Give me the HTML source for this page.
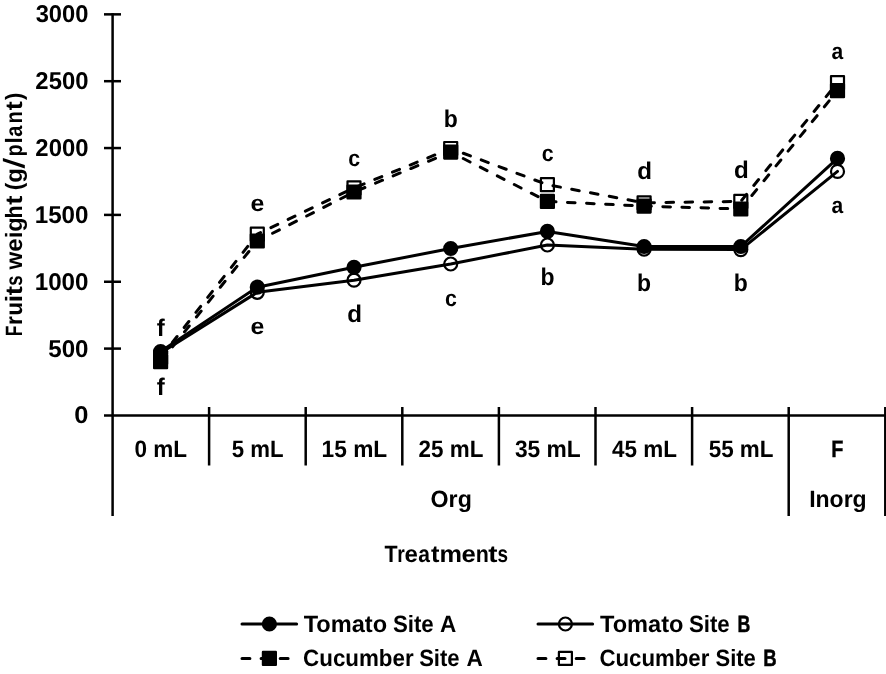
<!DOCTYPE html>
<html><head><meta charset="utf-8"><title>Fruits weight chart</title>
<style>html,body{margin:0;padding:0;background:#fff;}svg{display:block;filter:grayscale(1);}body{font-family:"Liberation Sans",sans-serif;}</style></head>
<body>
<svg width="886" height="674" viewBox="0 0 886 674" font-family="'Liberation Sans', sans-serif" font-weight="bold" fill="#000" text-rendering="geometricPrecision">
<rect width="886" height="674" fill="#fff"/>
<g stroke="#000" stroke-width="2.5" fill="none" stroke-linecap="butt">
<line x1="112.6" y1="13.15" x2="112.6" y2="516"/>
<line x1="104" y1="415.45" x2="886" y2="415.45"/>
<line x1="104" y1="14.35" x2="121" y2="14.35"/>
<line x1="104" y1="81.20" x2="121" y2="81.20"/>
<line x1="104" y1="148.05" x2="121" y2="148.05"/>
<line x1="104" y1="214.90" x2="121" y2="214.90"/>
<line x1="104" y1="281.75" x2="121" y2="281.75"/>
<line x1="104" y1="348.60" x2="121" y2="348.60"/>
<line x1="209.10" y1="407" x2="209.10" y2="465.5"/>
<line x1="305.70" y1="407" x2="305.70" y2="465.5"/>
<line x1="402.30" y1="407" x2="402.30" y2="465.5"/>
<line x1="498.90" y1="407" x2="498.90" y2="465.5"/>
<line x1="595.50" y1="407" x2="595.50" y2="465.5"/>
<line x1="692.10" y1="407" x2="692.10" y2="465.5"/>
<line x1="788.70" y1="407" x2="788.70" y2="516"/>
<line x1="885.30" y1="407" x2="885.30" y2="516"/>
</g>
<text x="35.67" y="22.25" font-size="24.2" textLength="52.84" lengthAdjust="spacingAndGlyphs">3000</text>
<text x="35.36" y="89.10" font-size="24.2" textLength="53.14" lengthAdjust="spacingAndGlyphs">2500</text>
<text x="35.36" y="155.95" font-size="24.2" textLength="53.14" lengthAdjust="spacingAndGlyphs">2000</text>
<text x="34.69" y="222.80" font-size="24.2" textLength="53.83" lengthAdjust="spacingAndGlyphs">1500</text>
<text x="34.69" y="289.65" font-size="24.2" textLength="53.83" lengthAdjust="spacingAndGlyphs">1000</text>
<text x="48.22" y="356.50" font-size="24.2" textLength="40.27" lengthAdjust="spacingAndGlyphs">500</text>
<text x="74.38" y="423.35" font-size="24.2" textLength="14.17" lengthAdjust="spacingAndGlyphs">0</text>
<g transform="translate(21.8,335.8) rotate(-90)">
<text x="-0.38" y="0.00" font-size="23.6" textLength="10.71" lengthAdjust="spacingAndGlyphs">F</text>
<text x="10.91" y="0.00" font-size="23.6" textLength="8.91" lengthAdjust="spacingAndGlyphs">r</text>
<text x="20.43" y="0.00" font-size="23.6" textLength="13.42" lengthAdjust="spacingAndGlyphs">u</text>
<text x="33.47" y="0.00" font-size="23.6" textLength="7.27" lengthAdjust="spacingAndGlyphs">i</text>
<text x="40.55" y="0.00" font-size="23.6" textLength="9.21" lengthAdjust="spacingAndGlyphs">t</text>
<text x="50.05" y="0.00" font-size="23.6" textLength="10.31" lengthAdjust="spacingAndGlyphs">s</text>
<text x="66.36" y="0.00" font-size="23.6" textLength="17.69" lengthAdjust="spacingAndGlyphs">w</text>
<text x="84.04" y="0.00" font-size="23.6" textLength="13.37" lengthAdjust="spacingAndGlyphs">e</text>
<text x="97.72" y="0.00" font-size="23.6" textLength="6.26" lengthAdjust="spacingAndGlyphs">i</text>
<text x="104.15" y="0.00" font-size="23.6" textLength="14.52" lengthAdjust="spacingAndGlyphs">g</text>
<text x="117.41" y="0.00" font-size="23.6" textLength="12.98" lengthAdjust="spacingAndGlyphs">h</text>
<text x="130.95" y="0.00" font-size="23.6" textLength="9.21" lengthAdjust="spacingAndGlyphs">t</text>
<text x="145.68" y="0.00" font-size="23.6" textLength="7.49" lengthAdjust="spacingAndGlyphs">(</text>
<text x="152.94" y="0.00" font-size="23.6" textLength="14.64" lengthAdjust="spacingAndGlyphs">g</text>
<text x="179.44" y="0.00" font-size="23.6" textLength="11.85" lengthAdjust="spacingAndGlyphs">p</text>
<text x="192.32" y="0.00" font-size="23.6" textLength="6.26" lengthAdjust="spacingAndGlyphs">l</text>
<text x="199.10" y="0.00" font-size="23.6" textLength="11.18" lengthAdjust="spacingAndGlyphs">a</text>
<text x="212.19" y="0.00" font-size="23.6" textLength="12.34" lengthAdjust="spacingAndGlyphs">n</text>
<text x="225.66" y="0.00" font-size="23.6" textLength="9.10" lengthAdjust="spacingAndGlyphs">t</text>
<text x="235.74" y="0.00" font-size="23.6" textLength="7.37" lengthAdjust="spacingAndGlyphs">)</text>
</g>
<polygon points="2.9,157.9 2.9,161.3 24.8,168.5 24.8,165.1" fill="#000"/>
<g fill="none" stroke="#000" stroke-width="3.0" stroke-linejoin="round" stroke-linecap="round">
<polyline points="160.60,351.50 257.30,287.20 354.00,267.30 450.70,248.50 547.40,231.40 644.10,246.50 740.80,246.50 837.50,158.40"/>
<polyline points="160.60,353.00 257.30,292.30 354.00,280.20 450.70,264.00 547.40,245.00 644.10,249.20 740.80,249.60 837.50,171.40"/>
<polyline points="160.60,361.70 257.30,241.00 354.00,192.00 450.70,152.10 547.40,201.40 644.10,206.10 740.80,209.00 837.50,90.70" stroke-dasharray="7.6 11.49"/>
<polyline points="160.60,357.50 257.30,234.20 354.00,187.90 450.70,148.50 547.40,184.70 644.10,202.80 740.80,201.40 837.50,82.70" stroke-dasharray="7.6 11.49"/>
</g>
<circle cx="160.60" cy="353.00" r="6.5" fill="none" stroke="#000" stroke-width="2.2"/>
<circle cx="257.30" cy="292.30" r="6.5" fill="none" stroke="#000" stroke-width="2.2"/>
<circle cx="354.00" cy="280.20" r="6.5" fill="none" stroke="#000" stroke-width="2.2"/>
<circle cx="450.70" cy="264.00" r="6.5" fill="none" stroke="#000" stroke-width="2.2"/>
<circle cx="547.40" cy="245.00" r="6.5" fill="none" stroke="#000" stroke-width="2.2"/>
<circle cx="644.10" cy="249.20" r="6.5" fill="none" stroke="#000" stroke-width="2.2"/>
<circle cx="740.80" cy="249.60" r="6.5" fill="none" stroke="#000" stroke-width="2.2"/>
<circle cx="837.50" cy="171.40" r="6.5" fill="none" stroke="#000" stroke-width="2.2"/>
<rect x="154.10" y="351.00" width="13.0" height="13.0" fill="none" stroke="#000" stroke-width="2.2" stroke-linejoin="round"/>
<rect x="250.80" y="227.70" width="13.0" height="13.0" fill="none" stroke="#000" stroke-width="2.2" stroke-linejoin="round"/>
<rect x="347.50" y="181.40" width="13.0" height="13.0" fill="none" stroke="#000" stroke-width="2.2" stroke-linejoin="round"/>
<rect x="444.20" y="142.00" width="13.0" height="13.0" fill="none" stroke="#000" stroke-width="2.2" stroke-linejoin="round"/>
<rect x="540.90" y="178.20" width="13.0" height="13.0" fill="none" stroke="#000" stroke-width="2.2" stroke-linejoin="round"/>
<rect x="637.60" y="196.30" width="13.0" height="13.0" fill="none" stroke="#000" stroke-width="2.2" stroke-linejoin="round"/>
<rect x="734.30" y="194.90" width="13.0" height="13.0" fill="none" stroke="#000" stroke-width="2.2" stroke-linejoin="round"/>
<rect x="831.00" y="76.20" width="13.0" height="13.0" fill="none" stroke="#000" stroke-width="2.2" stroke-linejoin="round"/>
<circle cx="160.60" cy="351.50" r="6.5" fill="#000" stroke="#000" stroke-width="2.2"/>
<circle cx="257.30" cy="287.20" r="6.5" fill="#000" stroke="#000" stroke-width="2.2"/>
<circle cx="354.00" cy="267.30" r="6.5" fill="#000" stroke="#000" stroke-width="2.2"/>
<circle cx="450.70" cy="248.50" r="6.5" fill="#000" stroke="#000" stroke-width="2.2"/>
<circle cx="547.40" cy="231.40" r="6.5" fill="#000" stroke="#000" stroke-width="2.2"/>
<circle cx="644.10" cy="246.50" r="6.5" fill="#000" stroke="#000" stroke-width="2.2"/>
<circle cx="740.80" cy="246.50" r="6.5" fill="#000" stroke="#000" stroke-width="2.2"/>
<circle cx="837.50" cy="158.40" r="6.5" fill="#000" stroke="#000" stroke-width="2.2"/>
<rect x="154.10" y="355.20" width="13.0" height="13.0" fill="#000" stroke="#000" stroke-width="2.2" stroke-linejoin="round"/>
<rect x="250.80" y="234.50" width="13.0" height="13.0" fill="#000" stroke="#000" stroke-width="2.2" stroke-linejoin="round"/>
<rect x="347.50" y="185.50" width="13.0" height="13.0" fill="#000" stroke="#000" stroke-width="2.2" stroke-linejoin="round"/>
<rect x="444.20" y="145.60" width="13.0" height="13.0" fill="#000" stroke="#000" stroke-width="2.2" stroke-linejoin="round"/>
<rect x="540.90" y="194.90" width="13.0" height="13.0" fill="#000" stroke="#000" stroke-width="2.2" stroke-linejoin="round"/>
<rect x="637.60" y="199.60" width="13.0" height="13.0" fill="#000" stroke="#000" stroke-width="2.2" stroke-linejoin="round"/>
<rect x="734.30" y="202.50" width="13.0" height="13.0" fill="#000" stroke="#000" stroke-width="2.2" stroke-linejoin="round"/>
<rect x="831.00" y="84.20" width="13.0" height="13.0" fill="#000" stroke="#000" stroke-width="2.2" stroke-linejoin="round"/>
<text x="156.68" y="335.60" font-size="24.0" textLength="7.97" lengthAdjust="spacingAndGlyphs">f</text>
<text x="250.61" y="210.60" font-size="23.0" textLength="13.83" lengthAdjust="spacingAndGlyphs">e</text>
<text x="348.25" y="165.50" font-size="23.0" textLength="11.86" lengthAdjust="spacingAndGlyphs">c</text>
<text x="443.71" y="126.80" font-size="24.2" textLength="14.03" lengthAdjust="spacingAndGlyphs">b</text>
<text x="541.65" y="161.40" font-size="23.0" textLength="11.87" lengthAdjust="spacingAndGlyphs">c</text>
<text x="637.33" y="179.10" font-size="24.2" textLength="14.76" lengthAdjust="spacingAndGlyphs">d</text>
<text x="734.03" y="178.30" font-size="24.2" textLength="14.76" lengthAdjust="spacingAndGlyphs">d</text>
<text x="831.57" y="59.00" font-size="23.0" textLength="11.70" lengthAdjust="spacingAndGlyphs">a</text>
<text x="156.68" y="394.70" font-size="24.0" textLength="7.97" lengthAdjust="spacingAndGlyphs">f</text>
<text x="250.61" y="333.90" font-size="23.0" textLength="13.83" lengthAdjust="spacingAndGlyphs">e</text>
<text x="347.23" y="322.00" font-size="24.2" textLength="14.76" lengthAdjust="spacingAndGlyphs">d</text>
<text x="444.95" y="305.70" font-size="23.0" textLength="11.86" lengthAdjust="spacingAndGlyphs">c</text>
<text x="540.41" y="284.70" font-size="24.2" textLength="14.03" lengthAdjust="spacingAndGlyphs">b</text>
<text x="637.11" y="290.60" font-size="24.2" textLength="14.03" lengthAdjust="spacingAndGlyphs">b</text>
<text x="733.81" y="290.60" font-size="24.2" textLength="14.03" lengthAdjust="spacingAndGlyphs">b</text>
<text x="831.57" y="213.20" font-size="23.0" textLength="11.70" lengthAdjust="spacingAndGlyphs">a</text>
<text x="134.50" y="457.20" font-size="23.8" textLength="52.61" lengthAdjust="spacingAndGlyphs">0 mL</text>
<text x="231.68" y="457.20" font-size="23.8" textLength="51.82" lengthAdjust="spacingAndGlyphs">5 mL</text>
<text x="321.58" y="457.20" font-size="23.8" textLength="65.60" lengthAdjust="spacingAndGlyphs">15 mL</text>
<text x="418.62" y="457.20" font-size="23.8" textLength="64.76" lengthAdjust="spacingAndGlyphs">25 mL</text>
<text x="514.89" y="457.20" font-size="23.8" textLength="65.80" lengthAdjust="spacingAndGlyphs">35 mL</text>
<text x="611.96" y="457.20" font-size="23.8" textLength="64.92" lengthAdjust="spacingAndGlyphs">45 mL</text>
<text x="708.67" y="457.20" font-size="23.8" textLength="64.81" lengthAdjust="spacingAndGlyphs">55 mL</text>
<text x="831.36" y="457.20" font-size="23.8" textLength="12.16" lengthAdjust="spacingAndGlyphs" stroke="#000" stroke-width="0.4">F</text>
<text x="430.57" y="506.80" font-size="23.6" textLength="41.24" lengthAdjust="spacingAndGlyphs">Org</text>
<text x="809.15" y="506.60" font-size="23.6" textLength="57.54" lengthAdjust="spacingAndGlyphs">Inorg</text>
<text x="384.53" y="562.20" font-size="23.6" textLength="13.10" lengthAdjust="spacingAndGlyphs">T</text>
<text x="397.24" y="562.20" font-size="23.6" textLength="7.53" lengthAdjust="spacingAndGlyphs">r</text>
<text x="404.44" y="562.20" font-size="23.6" textLength="13.37" lengthAdjust="spacingAndGlyphs">e</text>
<text x="418.37" y="562.20" font-size="23.6" textLength="11.70" lengthAdjust="spacingAndGlyphs">a</text>
<text x="430.98" y="562.20" font-size="23.6" textLength="8.45" lengthAdjust="spacingAndGlyphs">t</text>
<text x="439.45" y="562.20" font-size="23.6" textLength="22.51" lengthAdjust="spacingAndGlyphs">m</text>
<text x="461.47" y="562.20" font-size="23.6" textLength="14.29" lengthAdjust="spacingAndGlyphs">e</text>
<text x="475.71" y="562.20" font-size="23.6" textLength="13.10" lengthAdjust="spacingAndGlyphs">n</text>
<text x="488.35" y="562.20" font-size="23.6" textLength="9.21" lengthAdjust="spacingAndGlyphs">t</text>
<text x="497.54" y="562.20" font-size="23.6" textLength="10.54" lengthAdjust="spacingAndGlyphs">s</text>
<line x1="242.00" y1="624.0" x2="296.60" y2="624.0" stroke="#000" stroke-width="3.0" stroke-linecap="round"/>
<circle cx="269.40" cy="624.00" r="6.5" fill="#000" stroke="#000" stroke-width="2.2"/>
<text x="303.71" y="632.00" font-size="23.6" textLength="83.42" lengthAdjust="spacingAndGlyphs">Tomato</text>
<text x="392.93" y="632.00" font-size="23.6" textLength="40.83" lengthAdjust="spacingAndGlyphs">Site</text>
<text x="440.04" y="632.00" font-size="23.6" textLength="16.28" lengthAdjust="spacingAndGlyphs">A</text>
<line x1="538.00" y1="624.0" x2="592.60" y2="624.0" stroke="#000" stroke-width="3.0" stroke-linecap="round"/>
<circle cx="565.40" cy="624.00" r="6.5" fill="none" stroke="#000" stroke-width="2.2"/>
<text x="600.01" y="632.00" font-size="23.6" textLength="83.42" lengthAdjust="spacingAndGlyphs">Tomato</text>
<text x="688.93" y="632.00" font-size="23.6" textLength="40.83" lengthAdjust="spacingAndGlyphs">Site</text>
<text x="737.40" y="632.00" font-size="23.6" textLength="12.79" lengthAdjust="spacingAndGlyphs" stroke="#000" stroke-width="0.5">B</text>
<line x1="242.00" y1="658.4" x2="296.60" y2="658.4" stroke="#000" stroke-width="3.0" stroke-linecap="round" stroke-dasharray="7.9 11.2"/>
<rect x="262.90" y="651.90" width="13.0" height="13.0" fill="#000" stroke="#000" stroke-width="2.2" stroke-linejoin="round"/>
<text x="303.11" y="665.60" font-size="23.6" textLength="110.48" lengthAdjust="spacingAndGlyphs">Cucumber</text>
<text x="419.14" y="665.60" font-size="23.6" textLength="40.51" lengthAdjust="spacingAndGlyphs">Site</text>
<text x="466.44" y="665.60" font-size="23.6" textLength="16.28" lengthAdjust="spacingAndGlyphs">A</text>
<line x1="538.00" y1="658.4" x2="592.60" y2="658.4" stroke="#000" stroke-width="3.0" stroke-linecap="round" stroke-dasharray="7.9 11.2"/>
<rect x="558.90" y="651.90" width="13.0" height="13.0" fill="none" stroke="#000" stroke-width="2.2" stroke-linejoin="round"/>
<text x="599.41" y="665.60" font-size="23.6" textLength="109.98" lengthAdjust="spacingAndGlyphs">Cucumber</text>
<text x="715.44" y="665.60" font-size="23.6" textLength="40.41" lengthAdjust="spacingAndGlyphs">Site</text>
<text x="763.25" y="665.60" font-size="23.6" textLength="13.38" lengthAdjust="spacingAndGlyphs" stroke="#000" stroke-width="0.5">B</text>
</svg>
</body></html>
